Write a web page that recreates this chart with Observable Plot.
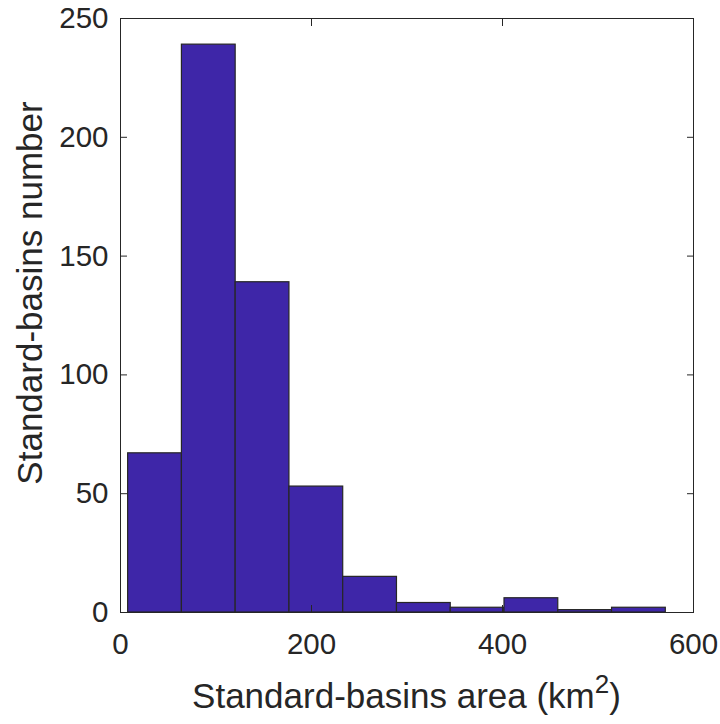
<!DOCTYPE html>
<html><head><meta charset="utf-8">
<script src="https://cdn.jsdelivr.net/npm/d3@7"></script>
<script src="https://cdn.jsdelivr.net/npm/@observablehq/plot@0.6"></script>
<style>body{margin:0;background:#fff} svg{display:block}</style>
</head><body><div id="chart"></div>
<script>
const binStart = [8, 64.3, 120.6, 176.9, 233.2, 289.5, 345.8, 402.1, 458.4, 514.7];
const binEnd   = [64.3, 120.6, 176.9, 233.2, 289.5, 345.8, 402.1, 458.4, 514.7, 571];
const counts   = [67, 239, 139, 53, 15, 4, 2, 6, 1, 2];
const xTicks = [0, 200, 400, 600];
const yTicks = [0, 50, 100, 150, 200, 250];
const xLabel = "Standard-basins area (km";
const xLabelSup = "2";
const xLabelEnd = ")";
const yLabel = "Standard-basins number";

const bins = counts.map((c, i) => ({x1: binStart[i], x2: binEnd[i], count: c}));
const ink = "#262626";
const W = 720, H = 724, mL = 120, mR = 27, mT = 18, mB = 112;

const plot = Plot.plot({
  width: W, height: H, marginLeft: mL, marginRight: mR, marginTop: mT, marginBottom: mB,
  style: {fontFamily: "'Liberation Sans', Arial, sans-serif", fontSize: "29.5px", color: ink, background: "#fff"},
  x: {domain: [0, 600], label: null},
  y: {domain: [0, 250], label: null},
  marks: [
    Plot.rectY(bins, {x1: "x1", x2: "x2", y: "count", fill: "#3e26a8", stroke: ink, strokeWidth: 1.2}),
    Plot.frame({stroke: ink, strokeWidth: 1}),
    Plot.axisX({anchor: "bottom", ticks: xTicks, tickSize: -7, tickPadding: 28, label: null, stroke: ink}),
    Plot.axisX({anchor: "top", ticks: xTicks, tickSize: -7, fill: "none", label: null, stroke: ink}),
    Plot.axisY({anchor: "left", ticks: yTicks, tickSize: -7, tickPadding: 19, label: null, stroke: ink}),
    Plot.axisY({anchor: "right", ticks: yTicks, tickSize: -7, fill: "none", label: null, stroke: ink})
  ]
});

const svg = d3.select(plot);
const cx = mL + (W - mL - mR) / 2;
const t = svg.append("text")
  .attr("x", cx).attr("y", 708)
  .attr("text-anchor", "middle")
  .attr("fill", ink)
  .style("font-size", "35px");
t.append("tspan").text(xLabel);
t.append("tspan").attr("dy", -15).style("font-size", "26px").text(xLabelSup);
t.append("tspan").attr("dy", 15).text(xLabelEnd);

svg.append("text")
  .attr("transform", `translate(42,293) rotate(-90)`)
  .attr("text-anchor", "middle")
  .attr("fill", ink)
  .style("font-size", "35px")
  .text(yLabel);

document.getElementById("chart").appendChild(plot);
</script>
</body></html>
